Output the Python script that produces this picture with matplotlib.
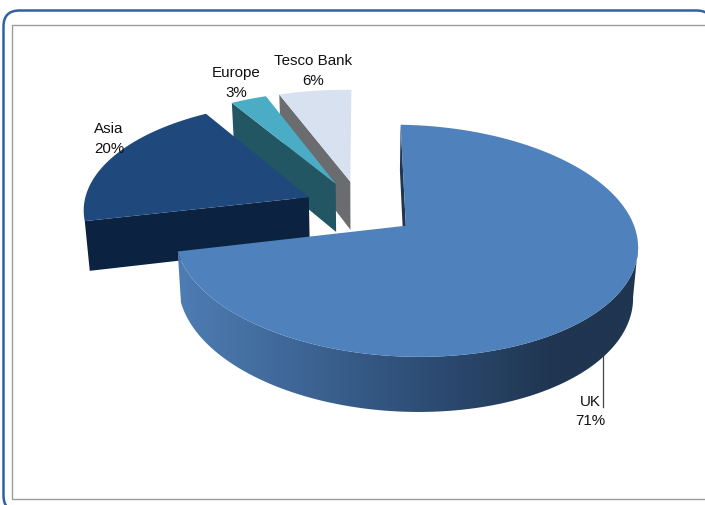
import numpy as np
import matplotlib
matplotlib.use("Agg")
import matplotlib.pyplot as plt
from matplotlib.patches import Polygon, FancyBboxPatch, Rectangle
from matplotlib.colors import LinearSegmentedColormap

plt.rcParams['font.family'] = ['Liberation Sans', 'DejaVu Sans']

# Share of group sales by segment
segments = ["UK", "Asia", "Europe", "Tesco Bank"]
shares = [71, 20, 3, 6]
top_colors = ["#4F81BD", "#1F497D", "#4BACC6", "#D7E1EF"]
side_colors = ["#1F3550", "#0B2240", "#215662", "#6B6C70"]

EXPLODE = 0.25
CX, CY = 360.5, 208.9
RX, RY = 225.0, 109.6
TILT = 0.127
SHEAR = 3.5


def project(X, Y):
    d = 1 + TILT * Y
    return CX + RX * X / d, CY - RY * Y / d + SHEAR * X / d


def drop(x, y):
    """Lower rim of the disc for a point on its upper face."""
    return x + 0.018 * (CX - x), y + 48 + 0.04 * (y - 180)


def wedge_points(a0, a1, n=240):
    mid = np.radians((a0 + a1) / 2)
    ox, oy = EXPLODE * np.sin(mid), EXPLODE * np.cos(mid)
    t = np.radians(np.linspace(a0, a1, n))
    return (project(ox, oy),
            project(ox + np.sin(t), oy + np.cos(t)))


fig = plt.figure(figsize=(7.05, 5.06), dpi=100)
ax = fig.add_axes([0, 0, 1, 1])
ax.set_xlim(0, 705)
ax.set_ylim(506, 0)
ax.axis("off")

ax.add_patch(FancyBboxPatch((3.5, 11.5), 709, 501, boxstyle="round,pad=0,rounding_size=16",
                            fc="white", ec="#2E63A2", lw=1.8, zorder=0))
ax.add_patch(Rectangle((12, 26), 720, 474, fc="white", ec="#9C9C9C", lw=1.0, zorder=0))

wall_shade = LinearSegmentedColormap.from_list(
    "wall", [(0.0, "#4E7DB4"), (0.5, "#2F5079"), (0.82, side_colors[0]), (1.0, side_colors[0])])

# Slice angles run clockwise from twelve o'clock
ends = np.cumsum(shares) * 3.6
starts = ends - np.array(shares) * 3.6

z = 5
for i in [3, 2, 1, 0]:
    (ax0, ay0), (xs, ys) = wedge_points(starts[i], ends[i])
    bx0, by0 = drop(ax0, ay0)
    bxs, bys = drop(xs, ys)
    # Cut face along the leading edge of the slice
    ax.add_patch(Polygon([(xs[0], ys[0]), (ax0, ay0), (bx0, by0), (bxs[0], bys[0])],
                         fc=side_colors[i], ec="none", zorder=z))
    if i == 0:
        # Rounded front wall, shaded from left to right
        k = int(np.argmax(xs))
        wall = Polygon(np.r_[np.c_[xs[k:], ys[k:]], np.c_[bxs[k:], bys[k:]][::-1]],
                       fc="none", ec="none", transform=ax.transData)
        ax.add_patch(wall)
        img = ax.imshow(np.linspace(0, 1, 256)[None, :], cmap=wall_shade, aspect="auto",
                        extent=(178, 640, 430, 230), zorder=z, interpolation="bilinear")
        img.set_clip_path(wall)
    ax.add_patch(Polygon(np.r_[[[ax0, ay0]], np.c_[xs, ys]], fc=top_colors[i], ec="none", zorder=z + 1))
    z += 2
ax.set_xlim(0, 705)
ax.set_ylim(506, 0)

# Labels and the leader line of the largest slice
ax.plot([602.5, 602.5], [355, 408], color="#444444", lw=0.9, zorder=4)
label_pos = {"UK": (590, 402), "Asia": (109, 129), "Europe": (236, 73), "Tesco Bank": (313, 61)}
for name, share in zip(segments, shares):
    x, y = label_pos[name]
    ax.text(x, y, name, ha="center", va="center", fontsize=10.9, color="#111111", zorder=30)
    ax.text(x, y + 19.5, f"{share}%", ha="center", va="center",
            fontsize=10.9, color="#111111", zorder=30)

fig.savefig("out.png", dpi=100)
